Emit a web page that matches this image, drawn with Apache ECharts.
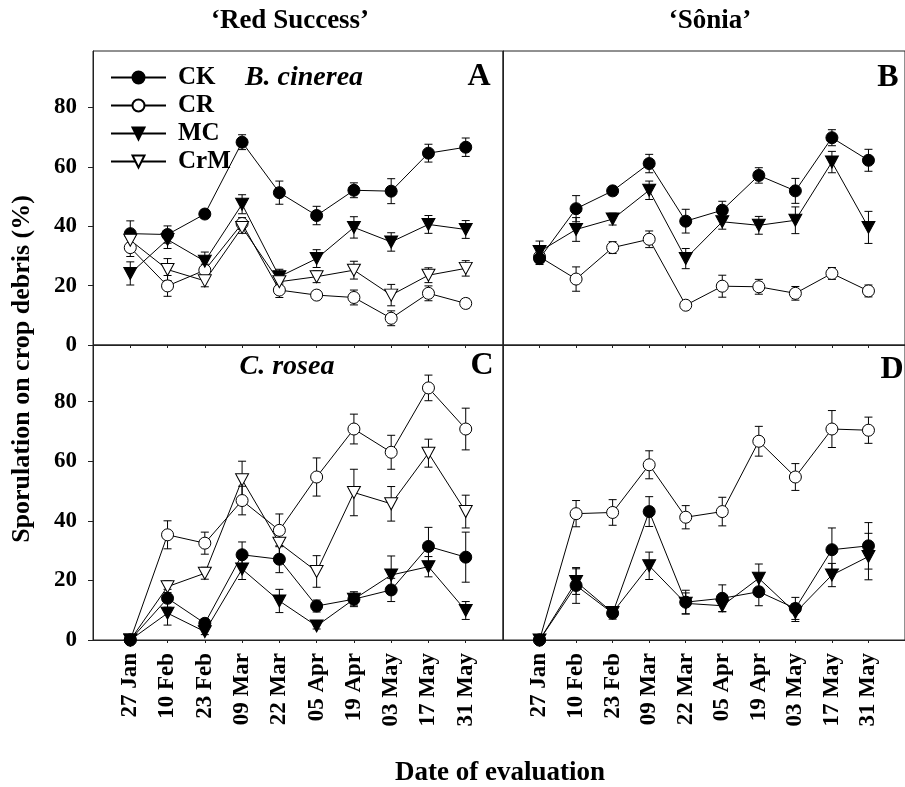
<!DOCTYPE html>
<html>
<head>
<meta charset="utf-8">
<script src="https://cdn.jsdelivr.net/npm/echarts@6/dist/echarts.min.js"></script>
<style>
html, body { margin: 0; padding: 0; background: #fff; }
#main { width: 905px; height: 787px; }
</style>
</head>
<body>
<div id="main"></div>
<script>
var myChart = echarts.init(document.getElementById('main'));

var dates = ['27 Jan', '10 Feb', '23 Feb', '09 Mar', '22 Mar', '05 Apr', '19 Apr', '03 May', '17 May', '31 May'];
var yTicks = [0, 20, 40, 60, 80];

// A: 'Red Success', B. cinerea
var aCK = [37.5, 37.2, 44.1, 68.3, 51.3, 43.6, 52.1, 51.8, 64.6, 66.6];
var aCKErr = [4.3, 2.9, 1.5, 2.5, 3.9, 3.1, 2.5, 4.2, 3.0, 3.1];
var aCR = [32.8, 19.9, 25.2, 40.9, 18.5, 16.8, 16.0, 9.0, 17.4, 14.0];
var aCRErr = [3.0, 3.5, 2.0, 2.0, 2.5, 1.5, 2.5, 2.5, 2.5, 1.5];
var aMC = [24.1, 35.5, 28.2, 47.4, 23.0, 29.1, 39.6, 34.7, 40.6, 38.9];
var aMCErr = [3.9, 3.0, 3.1, 3.2, 2.5, 3.0, 3.6, 3.1, 3.0, 3.0];
var aCrM = [35.3, 25.4, 21.6, 39.6, 21.3, 23.0, 25.2, 16.8, 23.5, 25.8];
var aCrMErr = [2.0, 3.7, 2.0, 2.0, 2.0, 2.0, 3.0, 3.6, 2.5, 2.6];

// B: 'Sônia', B. cinerea
var bCK = [29.1, 45.9, 51.9, 61.1, 41.7, 45.4, 57.1, 51.9, 69.8, 62.2];
var bCKErr = [2.0, 4.4, 1.5, 3.1, 4.0, 3.0, 2.6, 4.2, 2.7, 3.7];
var bCR = [29.7, 22.2, 32.8, 35.6, 13.4, 19.8, 19.6, 17.4, 24.1, 18.2];
var bCRErr = [2.0, 4.1, 2.0, 2.8, 1.0, 3.7, 2.5, 2.3, 2.0, 2.0];
var bMC = [31.5, 38.9, 42.4, 52.1, 29.1, 41.5, 40.3, 42.0, 61.6, 39.6];
var bMCErr = [3.5, 4.0, 2.0, 3.1, 3.4, 2.5, 3.0, 4.5, 3.6, 5.4];

// C: 'Red Success', C. rosea
var cCK = [0, 14.0, 5.6, 28.6, 27.1, 11.4, 13.7, 16.8, 31.4, 27.8];
var cCKErr = [0, 3.0, 1.5, 4.3, 4.5, 2.0, 2.5, 3.9, 6.4, 8.4];
var cCR = [0, 35.3, 32.5, 46.8, 36.8, 54.7, 70.8, 63.0, 84.6, 70.8];
var cCRErr = [0, 4.7, 3.7, 4.8, 5.5, 6.4, 5.0, 5.7, 4.3, 7.0];
var cMC = [0, 9.0, 2.8, 23.8, 13.1, 4.7, 13.7, 21.8, 24.6, 9.9];
var cMCErr = [0, 4.0, 1.0, 3.5, 3.9, 1.0, 2.0, 6.4, 3.4, 3.0];
var cCrM = [0, 17.9, 22.4, 53.8, 32.5, 23.0, 49.5, 45.7, 62.7, 43.1];
var cCrMErr = [0, 2.0, 2.0, 6.2, 4.0, 5.3, 7.8, 5.8, 4.7, 5.5];

// D: 'Sônia', C. rosea
var dCK = [0, 18.3, 9.0, 43.1, 12.7, 14.0, 16.2, 10.6, 30.3, 31.6];
var dCKErr = [0, 6.0, 2.0, 5.0, 4.0, 4.5, 4.7, 3.7, 7.3, 7.8];
var dCR = [0, 42.4, 42.8, 58.8, 41.2, 43.1, 66.7, 54.7, 70.8, 70.4];
var dCRErr = [0, 4.4, 4.3, 4.7, 3.9, 4.8, 5.0, 4.5, 6.2, 4.4];
var dMC = [0, 19.6, 9.2, 24.9, 12.3, 11.5, 20.7, 9.2, 21.8, 28.0];
var dMCErr = [0, 4.3, 1.5, 4.6, 3.5, 2.0, 4.8, 3.0, 3.9, 7.8];

var FONT = "'Liberation Serif', 'Times New Roman', serif";

var styles = {
    CK: { symbol: 'circle', size: 12, rotate: 0, fill: '#000' },
    CR: { symbol: 'circle', size: 12, rotate: 0, fill: '#fff' },
    MC: { symbol: 'triangle', size: [13, 12], rotate: 180, fill: '#000' },
    CrM: { symbol: 'triangle', size: [13, 12], rotate: 180, fill: '#fff' }
};

var panels = [
    { left: 93, top: 51, height: 294, labels: true, xLabels: false,
      series: [['CK', aCK, aCKErr], ['CR', aCR, aCRErr], ['MC', aMC, aMCErr], ['CrM', aCrM, aCrMErr]] },
    { left: 503, top: 51, height: 294, labels: false, xLabels: false,
      series: [['CR', bCR, bCRErr], ['MC', bMC, bMCErr], ['CK', bCK, bCKErr]] },
    { left: 93, top: 345, height: 295, labels: true, xLabels: true,
      series: [['CR', cCR, cCRErr], ['CrM', cCrM, cCrMErr], ['CK', cCK, cCKErr], ['MC', cMC, cMCErr]] },
    { left: 503, top: 345, height: 295, labels: false, xLabels: true,
      series: [['CR', dCR, dCRErr], ['CK', dCK, dCKErr], ['MC', dMC, dMCErr]] }
];

function errorBar(params, api) {
    var e = api.value(2);
    if (!e) return null;
    var x = api.value(0), v = api.value(1);
    var hi = api.coord([x, v + e]);
    var lo = api.coord([x, Math.max(0, v - e)]);
    var w = 4;
    var st = { stroke: '#000', lineWidth: 1 };
    return {
        type: 'group',
        children: [
            { type: 'line', shape: { x1: hi[0], y1: hi[1], x2: lo[0], y2: lo[1] }, style: st },
            { type: 'line', shape: { x1: hi[0] - w, y1: hi[1], x2: hi[0] + w, y2: hi[1] }, style: st },
            { type: 'line', shape: { x1: lo[0] - w, y1: lo[1], x2: lo[0] + w, y2: lo[1] }, style: st }
        ]
    };
}

var grids = [], xAxes = [], yAxes = [], series = [];
var idx = [0, 1, 2, 3, 4, 5, 6, 7, 8, 9];

panels.forEach(function (p, i) {
    grids.push({ left: p.left, top: p.top, width: 410, height: p.height,
        show: true, borderColor: '#222', borderWidth: 1, backgroundColor: 'transparent' });
    xAxes.push({
        type: 'value', gridIndex: i, min: -1, max: 10, interval: 1,
        axisLine: { show: true, onZero: false, lineStyle: { color: '#222', width: 1 } },
        axisTick: { show: true, length: 3, customValues: idx, lineStyle: { color: '#222' } },
        axisLabel: {
            show: p.xLabels, customValues: idx, rotate: 90, margin: 13,
            formatter: function (v) { return dates[v] || ''; },
            fontFamily: FONT, fontSize: 23, fontWeight: 'bold', color: '#000'
        },
        splitLine: { show: false }
    });
    yAxes.push({
        type: 'value', gridIndex: i, min: 0, max: 99,
        axisLine: { show: true, onZero: false, lineStyle: { color: '#222', width: 1 } },
        axisTick: { show: p.labels, length: 5, customValues: yTicks, lineStyle: { color: '#222' } },
        axisLabel: {
            show: p.labels, customValues: yTicks, margin: 16,
            fontFamily: FONT, fontSize: 23, fontWeight: 'bold', color: '#000'
        },
        splitLine: { show: false }
    });
    p.series.forEach(function (s) {
        series.push({
            type: 'custom', xAxisIndex: i, yAxisIndex: i, silent: true,
            renderItem: errorBar, encode: { x: 0, y: 1 },
            data: s[1].map(function (v, k) { return [k, v, s[2][k]]; }),
            z: 2
        });
    });
    p.series.forEach(function (s) {
        var st = styles[s[0]];
        series.push({
            name: s[0], type: 'line', xAxisIndex: i, yAxisIndex: i,
            data: s[1].map(function (v, k) { return [k, v]; }),
            symbol: st.symbol, symbolSize: st.size, symbolRotate: st.rotate,
            showAllSymbol: true,
            lineStyle: { color: '#000', width: 1 },
            itemStyle: { color: st.fill, borderColor: '#000', borderWidth: 1 },
            emphasis: { disabled: true },
            z: 3
        });
    });
});

function txt(text, x, y, size, extra) {
    var o = {
        type: 'text', x: x, y: y, silent: true,
        style: { text: text, font: (extra && extra.italic ? 'italic ' : '') + 'bold ' + size + 'px ' + FONT,
            fill: '#000', align: 'center', verticalAlign: 'middle' }
    };
    if (extra && extra.rotation) o.rotation = extra.rotation;
    return o;
}

option = {
    animation: false,
    backgroundColor: '#fff',
    grid: grids,
    xAxis: xAxes,
    yAxis: yAxes,
    legend: {
        data: ['CK', 'CR', 'MC', 'CrM'],
        orient: 'vertical', left: 105, top: 60,
        itemWidth: 55, itemHeight: 15, itemGap: 3,
        selectedMode: false,
        textStyle: { fontFamily: FONT, fontSize: 25, fontWeight: 'bold', color: '#000',
            lineHeight: 24, padding: [0, 0, 0, 7] }
    },
    graphic: [
        txt('\u2018Red Success\u2019', 290, 21, 27),
        txt('\u2018Sônia\u2019', 710, 21, 27),
        txt('B. cinerea', 304, 78, 28, { italic: true }),
        txt('C. rosea', 287, 367, 28, { italic: true }),
        txt('A', 479, 77, 32),
        txt('B', 888, 78, 32),
        txt('C', 482, 366, 32),
        txt('D', 892, 370, 32),
        txt('Sporulation on crop debris (%)', 22, 369, 26, { rotation: Math.PI / 2 }),
        txt('Date of evaluation', 500, 773, 27)
    ],
    series: series
};
myChart.setOption(option);
</script>
</body>
</html>
